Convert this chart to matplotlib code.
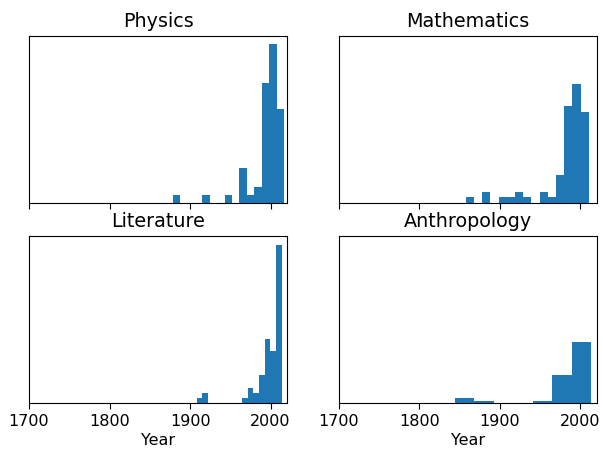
import matplotlib
matplotlib.use("Agg")
import matplotlib.pyplot as plt
import numpy as np

# Histogram heights (density-like, arbitrary units)
subjects = ["Physics", "Mathematics", "Literature", "Anthropology"]

physics_range = (1878.5, 2016.5)
physics_heights = [8, 0, 0, 0, 8, 0, 0, 8, 0, 35.3, 8, 16.7, 121.3, 160.3, 94.7]

math_range = (1857.5, 2010.5)
math_heights = [6, 0, 11, 0, 6, 6, 11, 6, 0, 11, 6, 28.3, 97.7, 119.7, 92.3]

literature_range = (1908.0, 2013.7)
literature_heights = [5, 10, 0, 0, 0, 0, 0, 0, 5.7, 15.7, 10.7, 28, 65, 52.7, 160]

anthro_range = (1844.3, 2013.0)
anthro_heights = [5.7, 1.7, 0, 0, 1.7, 28, 61.7]

x_ticks = [1700, 1800, 1900, 2000]

panels = [
    (physics_range, physics_heights),
    (math_range, math_heights),
    (literature_range, literature_heights),
    (anthro_range, anthro_heights),
]

plt.rcParams.update({
    "xtick.labelsize": 11.5,
    "axes.labelsize": 11.5,
    "axes.titlesize": 13.8,
    "axes.titlepad": 7,
    "xtick.major.size": 4,
})

fig, axes = plt.subplots(2, 2, figsize=(6.03, 4.54), dpi=100, sharex=True, sharey=True)
fig.subplots_adjust(left=0.048, right=0.99, top=0.92, bottom=0.112, wspace=0.2, hspace=0.2)

for ax, name, (rng, heights) in zip(axes.flat, subjects, panels):
    edges = np.linspace(rng[0], rng[1], len(heights) + 1)
    ax.hist(edges[:-1], bins=edges, weights=heights, color="#1f77b4")
    ax.set_title(name)
    ax.set_yticks([])

for ax in axes[1]:
    ax.set_xlabel("Year", labelpad=3)

axes[0, 0].set_xlim(1700, 2020.5)
axes[0, 0].set_xticks(x_ticks)

fig.savefig("out.png", dpi=100)
